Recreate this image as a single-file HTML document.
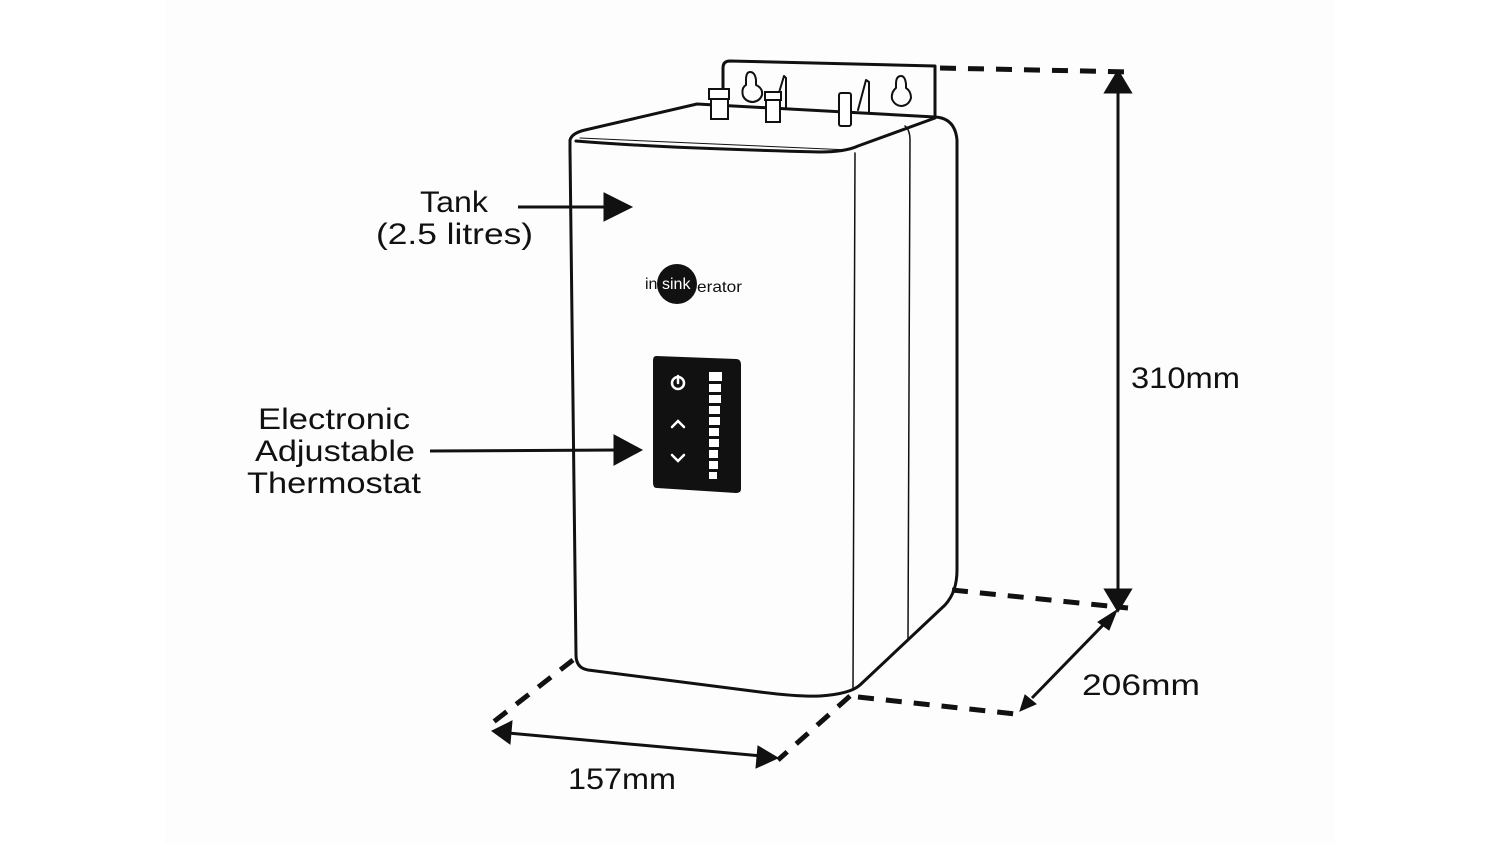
<!DOCTYPE html>
<html><head><meta charset="utf-8"><style>
html,body{margin:0;padding:0;background:#fff;}
svg{display:block}
text{font-family:"Liberation Sans",sans-serif;fill:#111;}
</style></head><body>
<svg width="1500" height="844" viewBox="0 0 1500 844" xmlns="http://www.w3.org/2000/svg">
<rect x="0" y="0" width="1500" height="844" fill="#fff"/>
<rect x="165" y="0" width="1170" height="844" fill="#fdfdfd"/>
<g fill="none" stroke="#111" stroke-width="3" stroke-linejoin="round" stroke-linecap="round">
<path d="M723 108 L723 68 Q723 61 730 61 L935 66 L935 116"/>
<path d="M570 140 Q572 133 585 130 L697 104 L935 117 Q955 118 957 140 L957 570 Q957 592 945 605 L860 685 Q850 694 820 696 Q800 697 760 692 L588 670 Q576 668 576 655 L570 150 Z"/>
<path d="M576 141 Q660 148 820 152 Q845 152 858 146 L935 118" stroke-width="3"/>
<path d="M855 153 L853 688" stroke-width="1.5"/>
<path d="M905 126 Q910 130 910 140 L908 638" stroke-width="1.5"/>
<path d="M580 138 L850 150" stroke-width="1"/>
<path d="M750 72 Q746 72 746 80 L746 85 Q741 88 743 96 Q746 102 753 102 Q760 101 762 95 Q763 88 756 85 L756 80 Q755 72 750 72 Z" stroke-width="2"/>
<path d="M901 76 Q896 76 896 84 L896 88 Q891 92 892 99 Q895 106 902 106 Q909 105 911 98 Q911 91 906 88 L906 84 Q905 76 901 76 Z" stroke-width="2"/>
<path d="M778 96 L784 76 L786 78 L786 108" stroke-width="2"/>
<path d="M858 110 L866 80 L869 82 L869 112" stroke-width="2"/>
</g>
<g fill="#fff" stroke="#111" stroke-width="2">
<rect x="709" y="89" width="20" height="10"/>
<rect x="711" y="99" width="17" height="20"/>
<rect x="765" y="92" width="16" height="8"/>
<rect x="766" y="100" width="14" height="22"/>
<rect x="839" y="93" width="12" height="33" rx="2"/>
</g>
<circle cx="677" cy="284" r="20" fill="#111"/>
<text x="645" y="289" font-size="16">in</text>
<text x="662" y="289" font-size="16" style="fill:#fff">sink</text>
<text x="697" y="292" font-size="16" textLength="45" lengthAdjust="spacingAndGlyphs">erator</text>
<path d="M656 356 L736 359 Q741 359 741 365 L741 489 Q741 493 736 493 L657 488 Q653 488 653 483 L653 361 Q653 356 656 356 Z" fill="#111"/>
<g fill="#fff">
<rect x="709" y="372" width="13" height="9"/><rect x="709" y="384" width="12" height="8"/>
<rect x="709" y="395" width="12" height="8"/><rect x="709" y="406" width="11" height="8"/>
<rect x="709" y="417" width="11" height="8"/><rect x="709" y="428" width="10" height="8"/>
<rect x="709" y="439" width="10" height="8"/><rect x="709" y="450" width="9" height="8"/>
<rect x="709" y="461" width="9" height="8"/><rect x="709" y="472" width="8" height="7"/>
</g>
<g fill="none" stroke="#fff" stroke-width="2.5" stroke-linecap="round">
<circle cx="678" cy="383" r="6"/><line x1="678" y1="376" x2="678" y2="383"/>
<path d="M672 427 L678 421 L684 427"/>
<path d="M672 455 L678 461 L684 455"/>
</g>
<g stroke="#111" stroke-width="5" stroke-dasharray="16 12" fill="none">
<path d="M940 68 L1132 72"/>
<path d="M952 590 L1128 608"/>
<path d="M858 697 L1025 715"/>
<path d="M573 660 L487 727"/>
<path d="M850 696 L778 760"/>
</g>
<g stroke="#111" stroke-width="3" fill="#111">
<line x1="1118" y1="88" x2="1118" y2="594"/>
<path d="M1106 92 L1118 72 L1130 92 Z"/><path d="M1106 590 L1118 610 L1130 590 Z"/>
<line x1="1106" y1="622" x2="1032" y2="698"/>
<path d="M1098 622 L1117 610 L1109 630 Z" stroke-width="1"/>
<path d="M1025 695 L1020 711 L1036 704 Z" stroke-width="1"/>
<line x1="508" y1="733" x2="762" y2="756"/>
<path d="M512 721 L492 731 L510 744 Z" stroke-width="1"/>
<path d="M758 746 L778 758 L756 768 Z" stroke-width="1"/>
<line x1="518" y1="207" x2="610" y2="207"/>
<path d="M604 193 L632 207 L604 221 Z" stroke-width="1"/>
<line x1="430" y1="451" x2="618" y2="450"/>
<path d="M614 435 L642 450 L614 465 Z" stroke-width="1"/>
</g>
<g font-size="30" lengthAdjust="spacingAndGlyphs">
<text x="420" y="212" textLength="68" lengthAdjust="spacingAndGlyphs">Tank</text>
<text x="376" y="244" textLength="157" lengthAdjust="spacingAndGlyphs">(2.5 litres)</text>
<text x="258" y="429" textLength="152" lengthAdjust="spacingAndGlyphs">Electronic</text>
<text x="255" y="461" textLength="160" lengthAdjust="spacingAndGlyphs">Adjustable</text>
<text x="247" y="493" textLength="174" lengthAdjust="spacingAndGlyphs">Thermostat</text>
<text x="1131" y="388" textLength="109" lengthAdjust="spacingAndGlyphs">310mm</text>
<text x="1082" y="695" textLength="118" lengthAdjust="spacingAndGlyphs">206mm</text>
<text x="568" y="789" textLength="108" lengthAdjust="spacingAndGlyphs">157mm</text>
</g>
</svg>
</body></html>
